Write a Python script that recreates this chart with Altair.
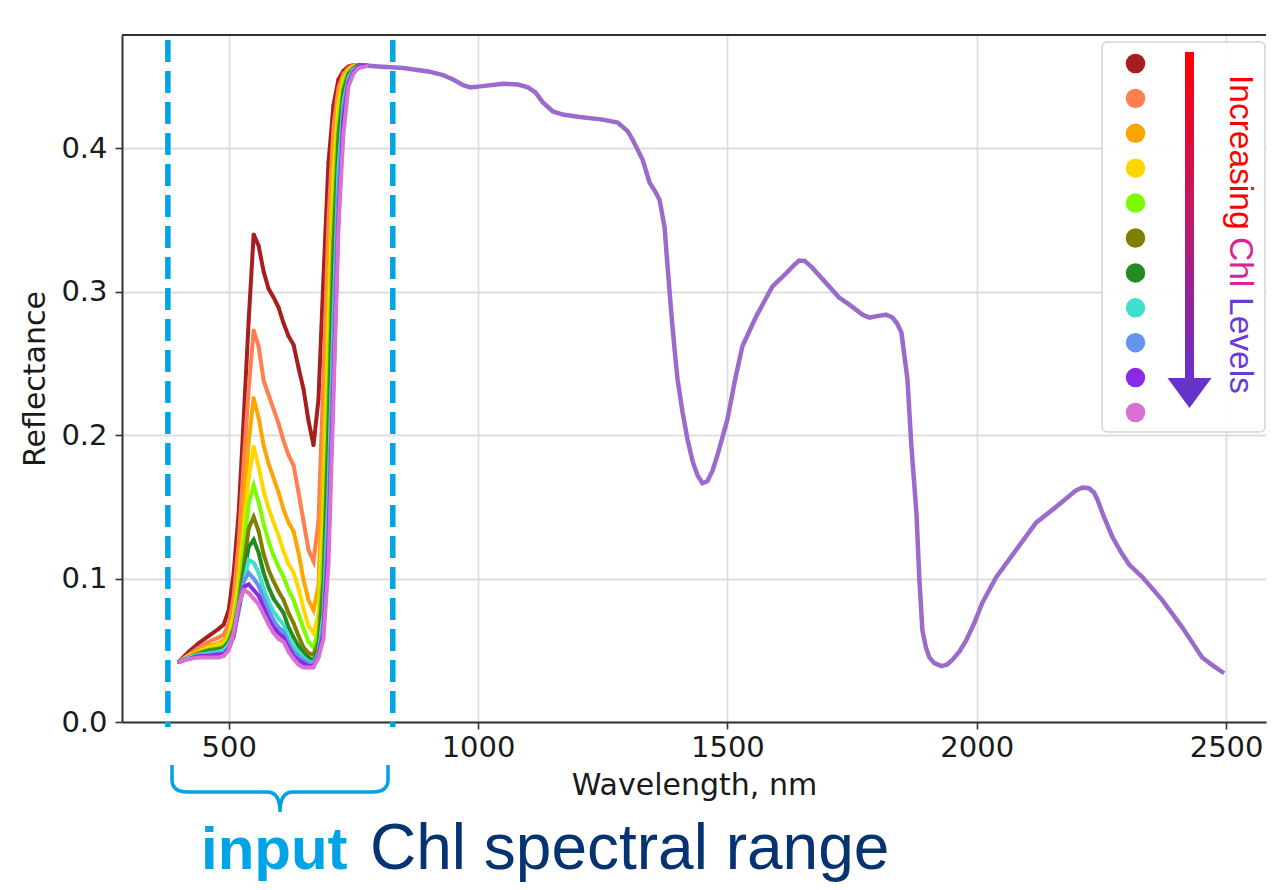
import altair as alt
import pandas as pd

# ---------------- data ----------------
WL = [400, 420, 440, 460, 480, 490, 500, 510, 520, 530, 540, 550, 560, 570, 580, 590,
      600, 610, 620, 630, 640, 650, 660, 670, 680, 690, 700, 710, 720, 730, 740, 750, 760, 780]

SERIES = ["Chl 01", "Chl 02", "Chl 03", "Chl 04", "Chl 05", "Chl 06",
          "Chl 07", "Chl 08", "Chl 09", "Chl 10", "Chl 11"]
COLORS = ["#a61e1e", "#ff7f50", "#ffa500", "#ffd700", "#7cfc00", "#808000",
          "#228b22", "#40e0d0", "#6495ed", "#8a2be2", "#da70d6"]

R01 = [.042, .049, .055, .060, .065, .068, .078, .104, .146, .211, .280, .340, .332, .314, .302, .296,
       .289, .278, .269, .263, .247, .232, .210, .193, .225, .310, .390, .430, .448, .454, .457, .458, .458, .4575]
R02 = [.042, .047, .052, .056, .059, .061, .068, .088, .125, .180, .232, .273, .262, .238, .228, .218,
       .208, .196, .186, .179, .160, .140, .120, .112, .140, .240, .350, .415, .442, .452, .456, .458, .458, .4575]
R03 = [.042, .046, .050, .053, .055, .057, .063, .079, .108, .152, .195, .226, .212, .193, .180, .170,
       .160, .148, .139, .133, .118, .099, .085, .078, .095, .190, .310, .400, .437, .450, .455, .457, .458, .4575]
R04 = [.042, .046, .049, .052, .054, .055, .060, .074, .098, .134, .170, .192, .178, .161, .149, .139,
       .130, .119, .110, .104, .093, .079, .067, .062, .075, .150, .275, .380, .430, .448, .454, .457, .458, .4575]
R05 = [.042, .045, .048, .051, .052, .053, .058, .069, .090, .121, .152, .165, .153, .138, .126, .116,
       .108, .101, .092, .085, .075, .065, .056, .052, .064, .120, .240, .360, .420, .445, .453, .456, .458, .4575]
R06 = [.042, .045, .048, .050, .051, .052, .056, .065, .083, .109, .135, .143, .133, .117, .106, .098,
       .091, .085, .076, .069, .060, .052, .048, .047, .056, .100, .210, .335, .410, .441, .452, .456, .458, .4575]
R07 = [.042, .045, .047, .049, .050, .051, .055, .062, .078, .101, .122, .127, .118, .104, .094, .086,
       .081, .076, .066, .059, .053, .048, .045, .043, .050, .085, .185, .310, .400, .437, .451, .455, .458, .4575]
R08 = [.042, .045, .047, .048, .049, .050, .054, .061, .077, .097, .113, .111, .104, .093, .084, .077,
       .072, .068, .059, .053, .049, .045, .042, .041, .048, .075, .160, .280, .385, .432, .449, .455, .457, .4575]
R09 = [.042, .044, .046, .047, .048, .048, .052, .060, .080, .098, .104, .100, .095, .086, .078, .071,
       .066, .063, .055, .049, .046, .043, .041, .040, .047, .068, .140, .260, .370, .427, .447, .454, .457, .4575]
R10 = [.042, .044, .046, .046, .047, .047, .051, .060, .080, .094, .096, .092, .088, .080, .072, .066,
       .062, .059, .052, .046, .043, .041, .039, .039, .046, .062, .125, .235, .350, .420, .445, .453, .457, .4575]
R11 = [.042, .044, .045, .045, .045, .046, .050, .062, .082, .092, .090, .086, .082, .075, .068, .062,
       .058, .056, .049, .044, .040, .038, .038, .038, .045, .058, .110, .225, .345, .410, .443, .452, .456, .4575]
REFL = [R01, R02, R03, R04, R05, R06, R07, R08, R09, R10, R11]

# shared NIR / SWIR part (identical for all levels)
TAIL_WL = [780, 800, 850, 900, 930, 950, 970, 985, 1000, 1050, 1080, 1100, 1115, 1130, 1150, 1170,
           1200, 1250, 1280, 1300, 1310, 1320, 1330, 1344, 1355, 1364, 1374, 1380, 1388, 1394, 1400,
           1410, 1420, 1430, 1440, 1450, 1460, 1470, 1480, 1500, 1515, 1530, 1558, 1590, 1618, 1635,
           1644, 1655, 1670, 1698, 1724, 1750, 1771, 1785, 1800, 1818, 1831, 1840, 1849, 1861, 1869,
           1879, 1885, 1891, 1898, 1905, 1915, 1929, 1940, 1951, 1965, 1979, 1995, 2011, 2039, 2079,
           2119, 2159, 2180, 2199, 2212, 2225, 2235, 2242, 2255, 2272, 2290, 2306, 2332, 2372, 2412,
           2452, 2475, 2496]
TAIL_R = [.4575, .457, .456, .4536, .451, .448, .444, .4425, .443, .445, .4445, .4425, .439, .432, .4257, .4235,
          .422, .420, .418, .412, .406, .399, .392, .376, .370, .364, .345, .3175, .283, .260, .239,
          .216, .197, .182, .172, .1665, .168, .175, .186, .211, .238, .262, .283, .3036, .313, .319,
          .3217, .3215, .3168, .306, .296, .2896, .284, .282, .283, .284, .282, .278, .2715, .239, .192,
          .146, .099, .064, .052, .045, .041, .039, .040, .0433, .049, .057, .069, .083, .101, .120,
          .139, .150, .156, .1615, .1635, .163, .160, .155, .143, .129, .118, .1096, .101, .085, .066,
          .045, .039, .034]
TAIL_COLOR = "#9b6bcc"

X_TICKS = [500, 1000, 1500, 2000, 2500]
Y_TICKS = [0.0, 0.1, 0.2, 0.3, 0.4]
RANGE_WL = [378, 829]            # bounds of the input spectral range

ARROW_TEXT = ["Increasing", "Chl", "Levels"]
ARROW_TEXT_COLORS = ["#ff0000", "#e0208f", "#6a3ad6"]
ARROW_TEXT_Y = [40, 202, 262]

BOTTOM_BOLD = ["input"]
BOTTOM_REG = ["Chl spectral range"]
BLUE = "#00a3e6"
NAVY = "#063372"

# ---------------- build ----------------
rows = []
for name, vals in zip(SERIES, REFL):
    for w, v in zip(WL, vals):
        rows.append({"series": name, "wl": w, "r": v})
vis = pd.DataFrame(rows)
tail = pd.DataFrame({"wl": TAIL_WL, "r": TAIL_R})
one = pd.DataFrame({"k": [0]})

W, H = 1144, 687
xs = alt.Scale(domain=[286, 2580], nice=False, zero=False)
ys = alt.Scale(domain=[0, 0.479], nice=False, zero=False)
xaxis = alt.Axis(values=X_TICKS, title="Wavelength, nm", format="d")
yaxis = alt.Axis(values=Y_TICKS, title="Reflectance", format=".1f", labelPadding=8)
xenc = alt.X("wl:Q", scale=xs, axis=xaxis)
yenc = alt.Y("r:Q", scale=ys, axis=yaxis)
cscale = alt.Scale(domain=SERIES, range=COLORS)
legend = alt.Legend(orient="none", legendX=1003.5, legendY=18.5, title=None,
                    symbolType="circle", symbolSize=380, symbolStrokeWidth=0,
                    symbolOpacity=1, labelExpr="''", rowPadding=14.9, padding=0,
                    labelFontSize=10, offset=0)
cenc = alt.Color("series:N", scale=cscale, sort=SERIES, legend=legend)

box = alt.Chart(one).mark_rect(fill="white", opacity=0.9, stroke="#cfcfcf", strokeWidth=1.5,
                               cornerRadius=5).encode(
    x=alt.value(980), x2=alt.value(1143), y=alt.value(7), y2=alt.value(397))

dots = alt.Chart(vis).mark_circle(size=14, opacity=1).encode(x=xenc, y=yenc, color=cenc)
lines = alt.Chart(vis).mark_line(strokeWidth=4).encode(x=xenc, y=yenc, color=cenc)

tail_line = alt.Chart(tail).mark_line(color=TAIL_COLOR, strokeWidth=4.5).encode(x=xenc, y=yenc)

dashes = alt.Chart(pd.DataFrame({"wl": RANGE_WL})).mark_rule(
    color=BLUE, strokeWidth=5.5, strokeDash=[22, 9]).encode(
    x=xenc, y=alt.value(5), y2=alt.value(692))

top_spine = alt.Chart(one).mark_rule(color="#333333", strokeWidth=2).encode(
    x=alt.value(0), x2=alt.value(W), y=alt.value(0))

grad = alt.LinearGradient(gradient="linear",
                          stops=[alt.GradientStop(color="#ff0000", offset=0),
                                 alt.GradientStop(color="#c0186a", offset=0.5),
                                 alt.GradientStop(color="#6633cc", offset=1)],
                          x1=0, x2=0, y1=0, y2=1)
arrow_bar = alt.Chart(one).mark_rect(color=grad).encode(
    x=alt.value(1063), x2=alt.value(1072), y=alt.value(17), y2=alt.value(347))
arrow_head = alt.Chart(one).mark_point(
    shape="M -1 -0.68 L 1 -0.68 L 0 0.68 Z", filled=True, size=1936, color="#6633cc", opacity=1).encode(
    x=alt.value(1067.5), y=alt.value(358))

arrow_text = alt.Chart(pd.DataFrame({"t": ARROW_TEXT, "c": ARROW_TEXT_COLORS, "y": ARROW_TEXT_Y})).mark_text(
    angle=90, align="left", baseline="middle", font="Liberation Sans", fontSize=33.5).encode(
    x=alt.value(1118), y=alt.Y("y:Q", scale=None), text="t:N", color=alt.Color("c:N", scale=None))

brace = alt.Chart(one).mark_point(
    shape=("M -1 -0.218 L -1 -0.08 Q -1 0.032 -0.86 0.032 L -0.12 0.032 Q 0 0.032 0 0.218 "
           "Q 0 0.032 0.12 0.032 L 0.86 0.032 Q 1 0.032 1 -0.08 L 1 -0.218"),
    filled=False, size=46656, stroke=BLUE, strokeWidth=3.5, opacity=1).encode(
    x=alt.value(158), y=alt.value(753.5))

text_bold = alt.Chart(pd.DataFrame({"t": BOTTOM_BOLD})).mark_text(
    align="left", baseline="alphabetic", font="Liberation Sans", fontSize=60,
    fontWeight="bold", color=BLUE).encode(x=alt.value(79), y=alt.value(834), text="t:N")
text_reg = alt.Chart(pd.DataFrame({"t": BOTTOM_REG})).mark_text(
    align="left", baseline="alphabetic", font="Liberation Sans", fontSize=64,
    color=NAVY).encode(x=alt.value(248), y=alt.value(834), text="t:N")

chart = alt.layer(box, dots, lines, tail_line, dashes, top_spine, arrow_bar, arrow_head,
                  arrow_text, brace, text_bold, text_reg).properties(
    width=W, height=H,
    autosize=alt.AutoSizeParams(type="none"),
    padding={"left": 114, "top": 27, "right": 1, "bottom": 160},
).configure_axis(
    labelFont="DejaVu Sans", labelFontSize=29, labelColor="#1a1a1a",
    titleFont="DejaVu Sans", titleFontSize=30, titleFontWeight="normal", titleColor="#1a1a1a",
    tickColor="#333333", tickWidth=1.6, tickSize=7, domainColor="#333333", domainWidth=2,
    gridColor="#dedede", gridWidth=1.8, labelPadding=4,
).configure_axisX(titlePadding=8).configure_axisY(titlePadding=10).configure_view(stroke=None)

chart.save("out.html", embed_options={"renderer": "svg", "actions": False})
